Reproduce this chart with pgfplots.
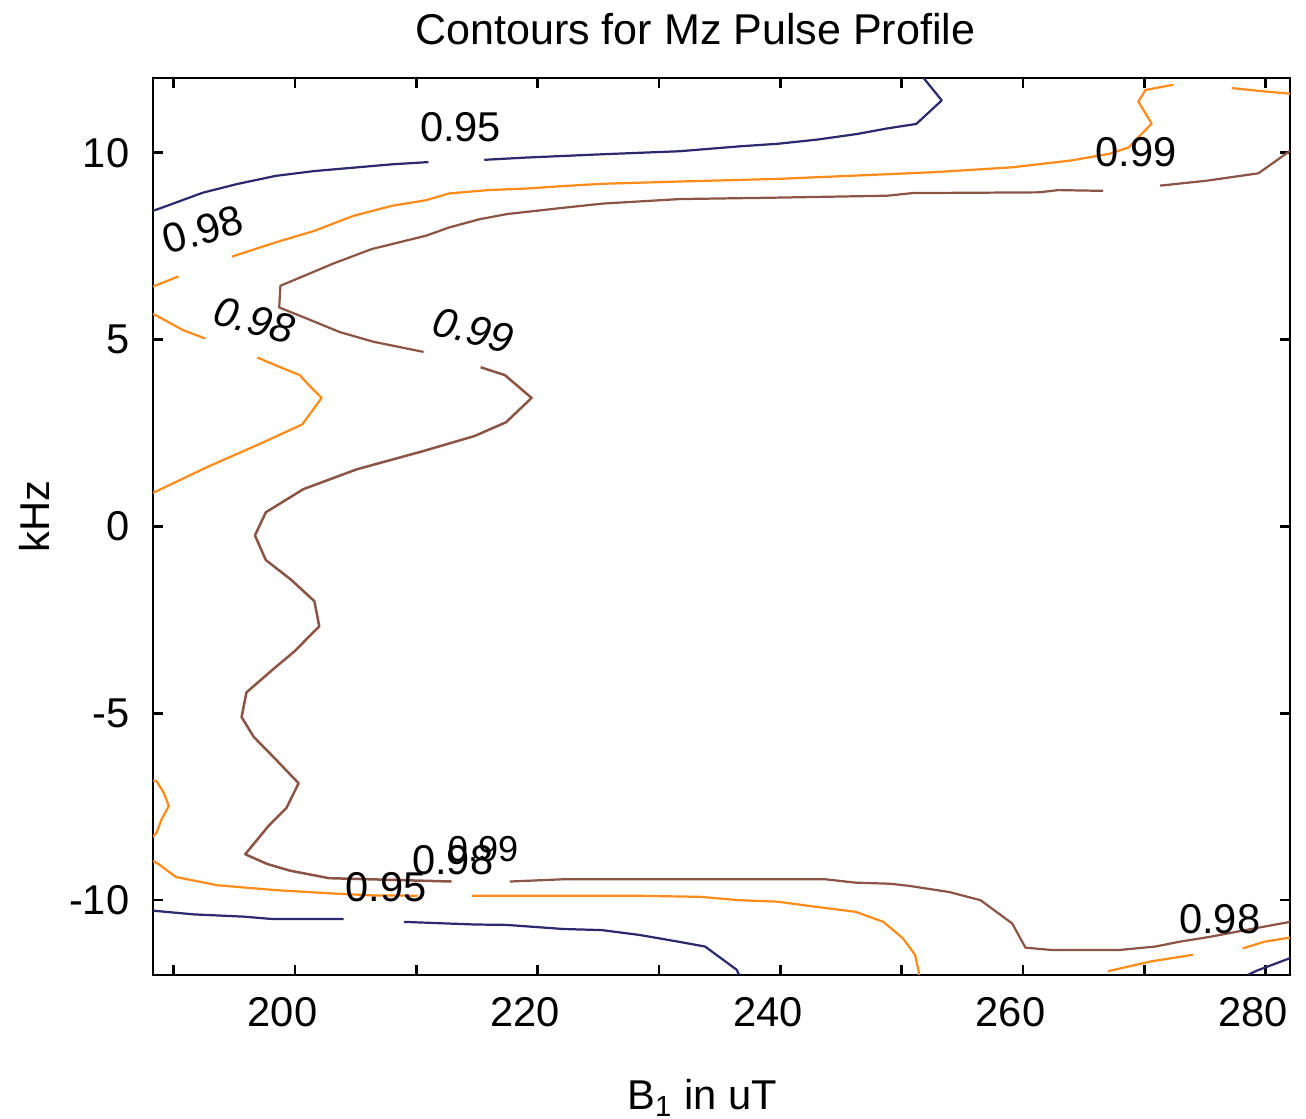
\documentclass[border=0pt]{standalone}
\usepackage{fontspec}
\setmainfont{Liberation Sans}
\usepackage{pgfplots}
\pgfplotsset{compat=1.18}
\definecolor{cnavy}{HTML}{2B2A6E}
\definecolor{corange}{HTML}{FF8C1A}
\definecolor{cbrown}{HTML}{8C5444}
\begin{document}
\begin{tikzpicture}[font=\fontsize{15}{18}\selectfont]
\begin{axis}[
  scale only axis, width=409.3pt, height=322.9pt,
  xmin=188.3, xmax=282, ymin=-12, ymax=12,
  xtick={190,200,...,280}, xticklabels={,200,,220,,240,,260,,280},
  ytick={-10,-5,0,5,10}, yticklabels={-10,-5,0,5,10},
  tick align=inside, major tick length=3.6pt,
  axis line style={line width=1pt},
  every tick/.style={black, line width=0.9pt},
  /pgf/number format/assume math mode=true,
  xticklabel style={yshift=-4.7pt, xshift=-4.5pt},
  yticklabel style={xshift=-5pt},
  title={Contours for Mz Pulse Profile},
  title style={at={(axis description cs:0.477,1.0357)}, anchor=base, inner sep=0pt, yshift=-5.5pt, font=\fontsize{15.5}{18}\selectfont},
  xlabel={B\textsubscript{1} in uT},
  xlabel style={at={(axis description cs:0.483,-0.1505)}, anchor=base, inner sep=0pt},
  ylabel={kHz},
  ylabel style={at={(axis description cs:-0.104,0.511)}, anchor=center, inner sep=0pt},
  every axis plot/.append style={line width=0.8pt, mark=none, line join=round},
  clip=true,
]
% ---- 0.95 (navy)
\addplot[cnavy] coordinates {(188.3,8.45) (188.7,8.49) (192.4,8.93) (195.2,9.16) (198.4,9.38) (201.6,9.51) (204.8,9.6) (208.0,9.69) (211.0,9.75)};
\addplot[cnavy] coordinates {(215.6,9.81) (219.0,9.87) (225.4,9.96) (231.7,10.04) (236.6,10.17) (239.8,10.24) (243.0,10.35) (246.3,10.5) (248.8,10.65) (251.2,10.77) (253.3,11.4) (251.8,12.0)};
\addplot[cnavy] coordinates {(188.3,-10.28) (191.7,-10.38) (195.8,-10.44) (198.0,-10.5) (204.0,-10.5)};
\addplot[cnavy] coordinates {(209.0,-10.58) (214.8,-10.65) (217.4,-10.66) (222.1,-10.77) (225.3,-10.8) (228.4,-10.93) (231.6,-11.11) (233.8,-11.24) (236.4,-11.86) (236.6,-12)};
\addplot[cnavy] coordinates {(278.5,-12) (279.3,-11.88) (282,-11.55)};
% ---- 0.98 (orange)
\addplot[corange] coordinates {(188.3,6.42) (190.4,6.69)};
\addplot[corange] coordinates {(194.8,7.22) (198.4,7.6) (201.6,7.91) (204.8,8.31) (208.0,8.58) (210.8,8.73) (212.7,8.91) (215.9,9.0) (219.0,9.04) (222.2,9.11) (225.4,9.17) (231.7,9.23) (239.8,9.3) (246.3,9.39) (252.7,9.48) (259.1,9.61) (263.9,9.79) (267.1,9.97) (268.7,10.14) (270.6,10.78) (269.5,11.37) (270.1,11.68) (272.4,11.82)};
\addplot[corange] coordinates {(277.2,11.73) (279.9,11.64) (282,11.58)};
\addplot[corange] coordinates {(188.3,5.68) (188.6,5.64) (190.8,5.25) (192.6,5.03)};
\addplot[corange] coordinates {(196.9,4.52) (198.8,4.26) (200.4,4.05) (201.0,3.83) (202.2,3.44) (200.6,2.73) (196.9,2.18) (192.7,1.58) (188.7,0.96) (188.3,0.9)};
\addplot[corange] coordinates {(188.3,-6.8) (188.6,-6.82) (189.2,-7.13) (189.6,-7.48) (189.0,-7.84) (188.6,-8.19) (188.3,-8.3)};
\addplot[corange] coordinates {(188.3,-8.95) (188.7,-9.02) (190.2,-9.38) (193.6,-9.6) (198.4,-9.73) (203.1,-9.82) (206.3,-9.87) (210.1,-9.88)};
\addplot[corange] coordinates {(214.6,-9.88) (219.0,-9.88) (228.1,-9.88) (233.4,-9.91) (236.6,-10.0) (239.8,-10.04) (243.0,-10.18) (246.2,-10.31) (248.5,-10.58) (250.1,-11.02) (251.1,-11.46) (251.4,-11.9) (251.4,-12)};
\addplot[corange] coordinates {(267.0,-11.9) (270.5,-11.64) (274.0,-11.46)};
\addplot[corange] coordinates {(278.1,-11.29) (279.9,-11.11) (282,-11.0)};
% ---- 0.99 (brown)
\addplot[cbrown] coordinates {(210.6,4.67) (206.5,4.94) (203.7,5.2) (201.0,5.56) (198.7,5.86) (198.8,6.44) (203.2,7.04) (206.3,7.42) (210.8,7.78) (212.7,8.0) (215.2,8.22) (217.5,8.36) (222.2,8.53) (225.4,8.64) (231.7,8.76) (240,8.8) (248.8,8.85) (250.9,8.92) (261.3,8.94) (262.9,9.0) (266.6,8.98)};
\addplot[cbrown] coordinates {(271.3,9.12) (275.1,9.25) (279.4,9.45) (282,10.05)};
\addplot[cbrown, line width=0.9pt] coordinates {(215.3,4.26) (217.3,4.05) (219.5,3.44) (217.4,2.79) (214.8,2.42) (210.6,2.02) (205.1,1.53) (200.7,1.0) (197.6,0.38) (196.7,-0.24) (197.6,-0.9) (199.7,-1.43) (201.6,-2.0) (202.0,-2.67) (200.0,-3.33) (198.2,-3.82) (196.0,-4.44) (195.6,-5.1) (196.6,-5.63) (198.2,-6.16) (200.3,-6.87) (199.3,-7.53) (197.8,-8.02) (195.9,-8.77) (197.7,-9.03) (199.6,-9.21) (202.8,-9.41) (212.9,-9.5)};
\addplot[cbrown] coordinates {(217.7,-9.5) (222.1,-9.44) (236.9,-9.44) (243.7,-9.44) (246.2,-9.53) (249.1,-9.56) (250.7,-9.62) (253.9,-9.78) (256.5,-10.0) (259.1,-10.62) (260.2,-11.27) (262.3,-11.33) (268.0,-11.33) (270.9,-11.24) (272.9,-11.11) (275.4,-10.98) (278.3,-10.8) (282,-10.58)};
% ---- contour labels
\node at (axis cs:213.65,10.69) {0.95};
\node[rotate=16] at (axis cs:192.4,7.94) {0.98};
\node[rotate=-15, font=\fontsize{15}{18}\selectfont\itshape] at (axis cs:196.66,5.51) {0.98};
\node[rotate=-14, font=\fontsize{15}{18}\selectfont\itshape] at (axis cs:214.7,5.25) {0.99};
\node at (axis cs:269.3,10.02) {0.99};
\node at (axis cs:207.5,-9.66) {0.95};
\node at (axis cs:213.0,-8.94) {0.98};
\node[font=\fontsize{13}{15}\selectfont] at (axis cs:215.5,-8.63) {0.99};
\node at (axis cs:276.2,-10.5) {0.98};
\coordinate (SW) at (rel axis cs:0,0);
\coordinate (NE) at (rel axis cs:1,1);
\end{axis}
\pgfresetboundingbox
\path ([xshift=-55.08pt,yshift=-51.84pt]SW) rectangle ([xshift=5.76pt,yshift=28.08pt]NE);
\end{tikzpicture}
\end{document}
